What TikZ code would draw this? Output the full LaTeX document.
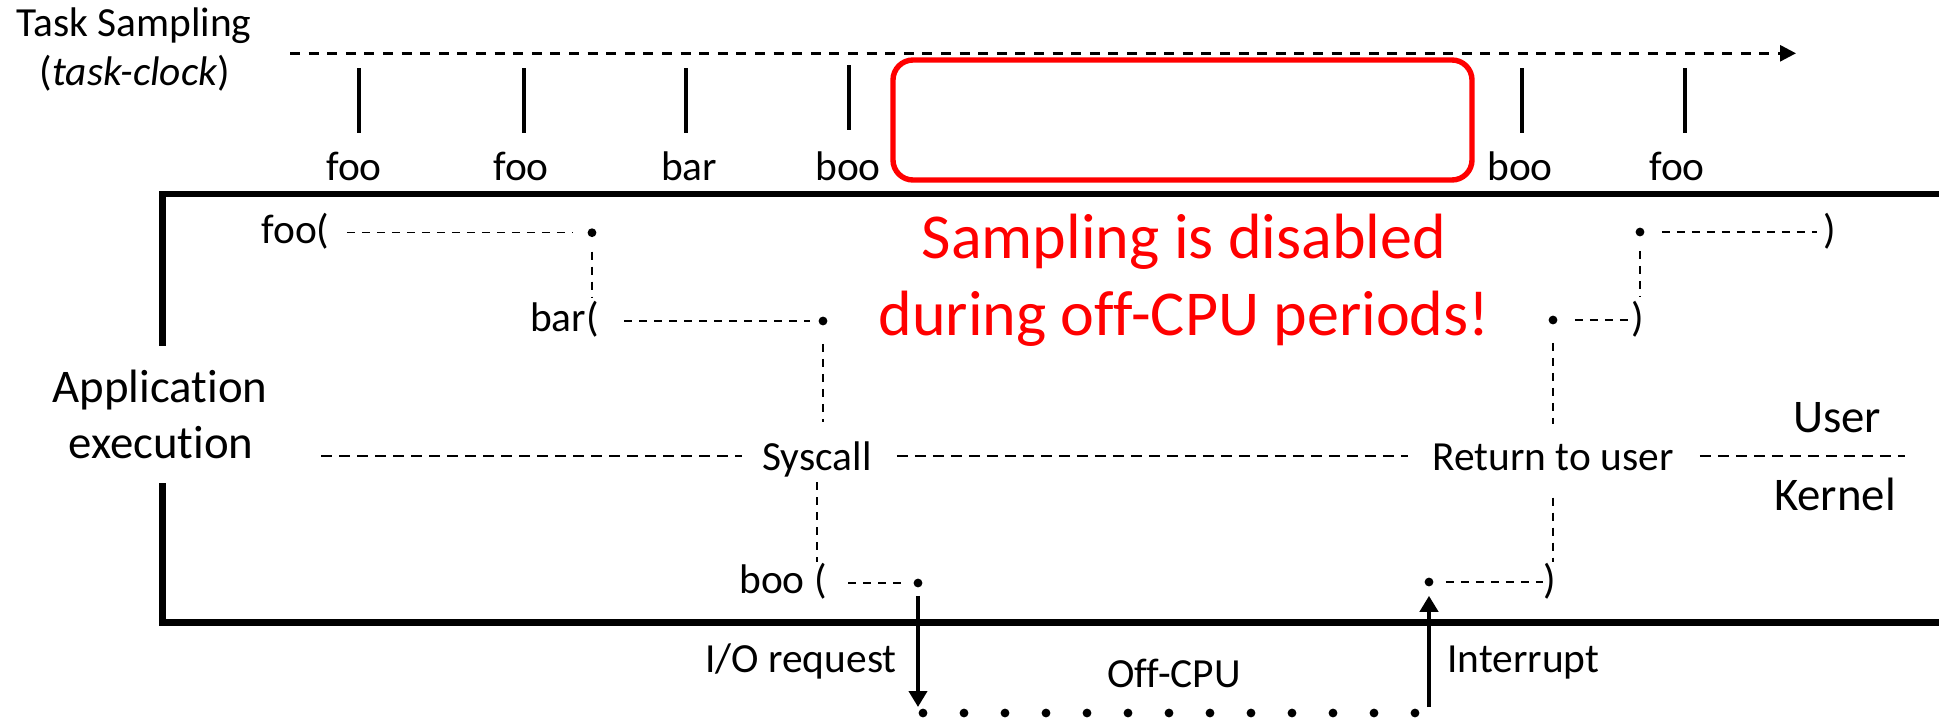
\documentclass[tikz,border=0pt]{standalone}
\usepackage{fontspec}
\setmainfont{Carlito}[Ligatures={NoCommon,NoRequired,NoContextual}]
\usetikzlibrary{arrows.meta,calc,positioning}

\begin{document}
\begin{tikzpicture}[x=0.5pt,y=-0.5pt,
    lbl/.style={font=\fontsize{20.7pt}{24pt}\selectfont,inner sep=0pt,anchor=base},
    biglbl/.style={font=\fontsize{23.4pt}{28pt}\selectfont,inner sep=0pt,anchor=base},
    warn/.style={font=\fontsize{32pt}{38pt}\selectfont,text=red,inner sep=0pt,anchor=base},
    ptdot/.style={circle,fill=black,inner sep=0pt,minimum size=4.4pt},
    sampletick/.style={line width=1.8pt},
    callline/.style={line width=0.65pt,dash pattern=on 4pt off 3.5pt},
    modeline/.style={line width=0.85pt,dash pattern=on 5.5pt off 3.5pt},
    frameline/.style={line width=3.2pt},
    evarrow/.style={line width=2.3pt,-{Triangle[length=8pt,width=9pt]}}
  ]
  \useasboundingbox (0,0) rectangle (1939,718);

  \node[lbl] (taskA) at (134,36) {Task Sampling};
  \node[lbl] (taskB) at (135,85) {(\textit{task-clock})};
  \coordinate (tl0) at (290,53.3);
  \coordinate (tl1) at (1796,53.3);
  \draw[line width=1.45pt,dash pattern=on 5pt off 4.3pt,-{Triangle[length=8pt,width=8pt]}] (tl0) -- (tl1);

  \draw[sampletick] (359,68) -- (359,133);
  \draw[sampletick] (524,68) -- (524,133);
  \draw[sampletick] (686,68) -- (686,133);
  \draw[sampletick] (849,65) -- (849,130);
  \draw[sampletick] (1522,68) -- (1522,133);
  \draw[sampletick] (1685,68) -- (1685,133);
  \node[lbl] (s1) at (354,180) {foo};
  \node[lbl] (s2) at (521,180) {foo};
  \node[lbl] (s3) at (689,180) {bar};
  \node[lbl] (s4) at (848,180) {boo};
  \node[lbl] (s5) at (1520,180) {boo};
  \node[lbl] (s6) at (1677,180) {foo};

  \draw[red,line width=2.7pt,rounded corners=10pt] (893,60) rectangle (1472,180);

  \draw[frameline] (1950,194) -- (162.5,194) -- (162.5,346);
  \draw[frameline] (162.5,483) -- (162.5,622.5) -- (1950,622.5);
  \node[biglbl] (appA) at (160,402) {Application};
  \node[biglbl] (appB) at (161,458) {execution};

  \node[warn] (warnA) at (1184,258) {Sampling is disabled};
  \node[warn] (warnB) at (1184,335) {during off-CPU periods!};

  \node[lbl] (fooL) at (295.5,243) {foo(};
  \node[lbl] (barL) at (564.5,331) {bar(};
  \node[lbl] (booL) at (783,593) {boo (};
  \node[lbl] (fooR) at (1830,243) {)};
  \node[lbl] (barR) at (1638,331) {)};
  \node[lbl] (booR) at (1550,593) {)};
  \node[ptdot] (fooS) at (592,232.7) {};
  \node[ptdot] (barS) at (823,321) {};
  \node[ptdot] (booS) at (918,583) {};
  \node[ptdot] (booE) at (1429,582) {};
  \node[ptdot] (barE) at (1553,320) {};
  \node[ptdot] (fooE) at (1640,232) {};

  \node[lbl] (sysL) at (817,470) {Syscall};
  \node[lbl] (retL) at (1553,470) {Return to user};
  \node[biglbl] (userL) at (1837,432) {User};
  \node[biglbl] (kernL) at (1835,510) {Kernel};
  \coordinate (ukL) at (321,456);
  \coordinate (ukR) at (1905,456);
  \draw[modeline,shorten >=10pt] (ukL) -- (sysL.west |- ukL);
  \draw[modeline,shorten <=12.5pt,shorten >=12pt] (sysL.east |- ukL) -- (retL.west |- ukL);
  \draw[modeline,shorten <=13pt] (retL.east |- ukL) -- (ukR);

  \draw[callline,shorten <=8.5pt,shorten >=7.5pt] (fooL.east |- fooS) -- (fooS);
  \draw[callline,shorten <=7pt,shorten >=1.5pt] (fooS) -- (fooS |- barL.north);
  \draw[callline,shorten <=12.5pt,shorten >=4pt] (barL.east |- barS) -- (barS);
  \draw[callline,shorten <=9pt,shorten >=9.5pt] (barS) -- (barS |- sysL.north);
  \draw[callline,shorten <=2.5pt] (sysL.south) -- (sysL.south |- booL.north);
  \draw[callline,shorten <=10.5pt,shorten >=3.5pt] (booL.east |- booS) -- (booS);

  \draw[callline,shorten <=6pt] (booE) -- (booR.west |- booE);
  \draw[callline,shorten <=13.5pt] (retL.south) -- (retL.south |- booR.north);
  \draw[callline,shorten <=9pt,shorten >=9.5pt] (barE) -- (barE |- retL.north);
  \draw[callline,shorten <=8.5pt,shorten >=1pt] (barE) -- (barR.west |- barE);
  \draw[callline,shorten <=7pt,shorten >=1.5pt] (fooE) -- (fooE |- barR.north);
  \draw[callline,shorten <=8.5pt,shorten >=3pt] (fooE) -- (fooR.west |- fooE);

  \coordinate (offL) at (923,713);
  \coordinate (offR) at (1417,713);
  \draw[line width=4.4pt,line cap=round,dash pattern=on 0pt off 20.5pt] (offL) -- (offR);
  \draw[evarrow,shorten <=4pt,shorten >=3pt] (booS) -- (booS |- offL);
  \draw[evarrow,shorten <=3pt,shorten >=4.5pt] (booE |- offR) -- (booE);
  \node[lbl,anchor=base east] (ioL) at (897,672) {I/O request};
  \node[lbl,anchor=base west] (intL) at (1447,672) {Interrupt};
  \node[lbl] (offL2) at (1174,687) {Off-CPU};
\end{tikzpicture}
\end{document}
